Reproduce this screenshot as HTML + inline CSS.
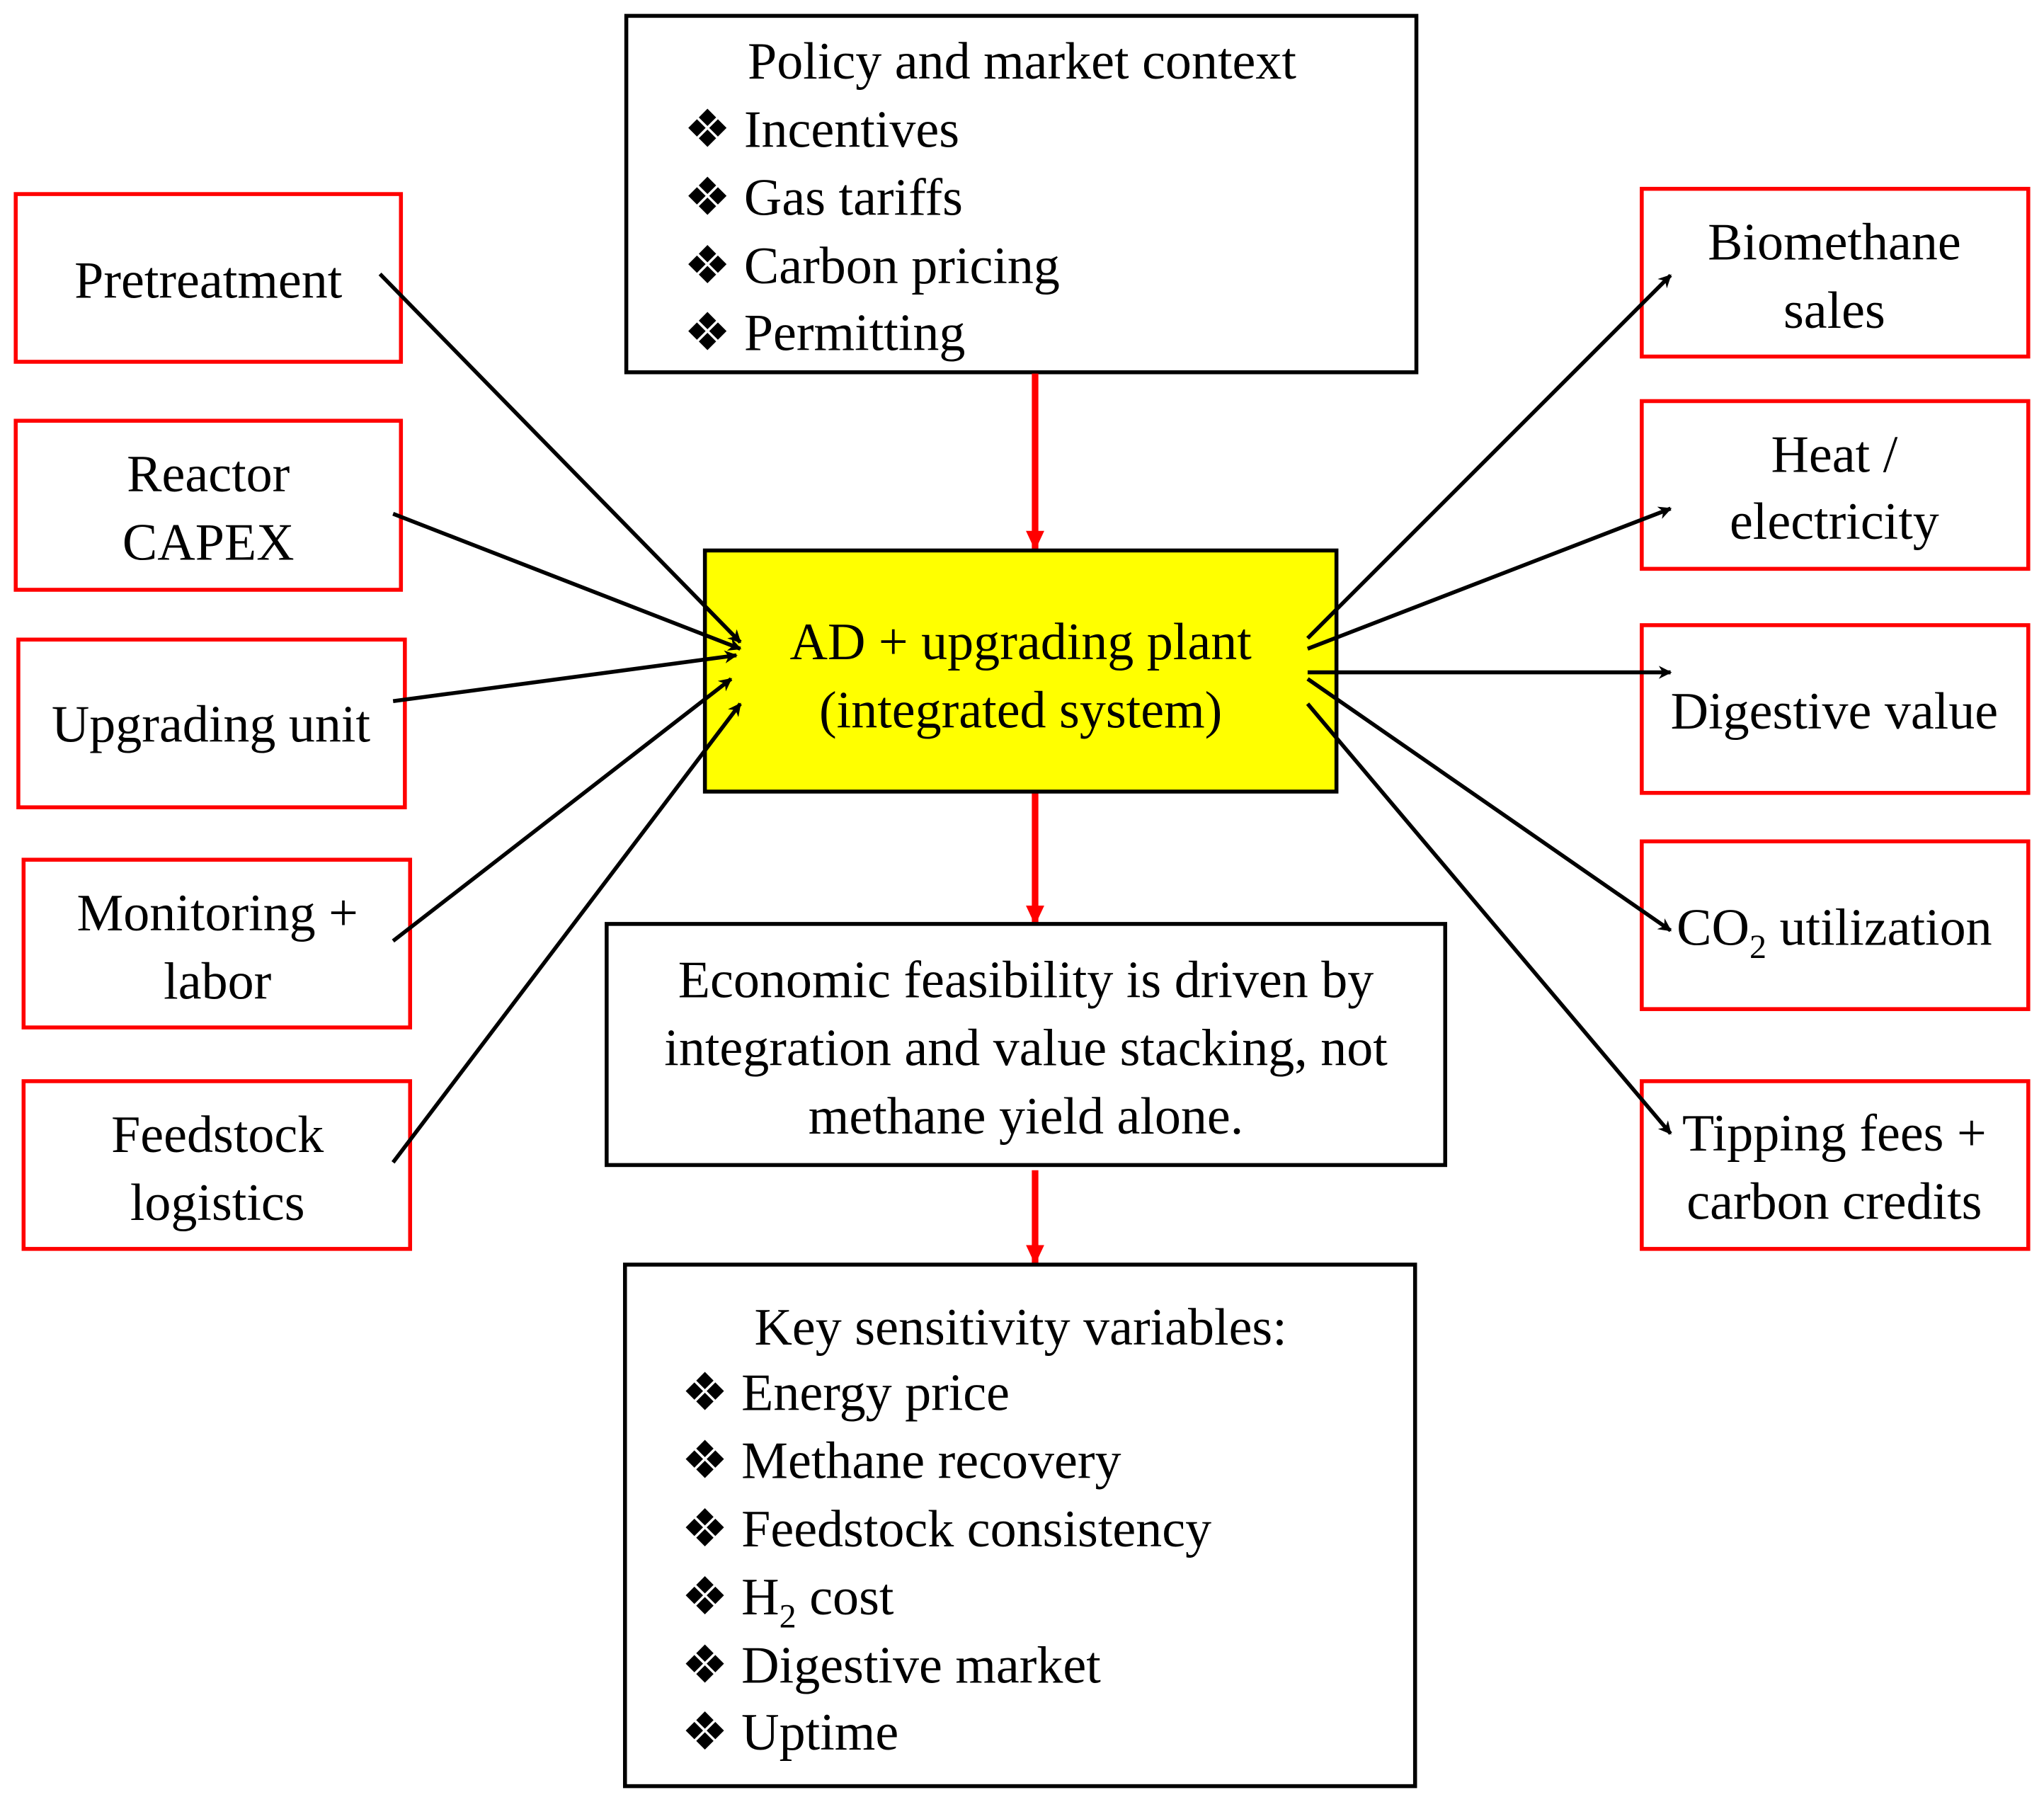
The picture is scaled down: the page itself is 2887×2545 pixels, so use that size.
<!DOCTYPE html>
<html><head><meta charset="utf-8"><style>
html,body{margin:0;padding:0;background:#fff;}
svg{display:block;}
text{font-family:"Liberation Serif",serif;font-size:40px;fill:#000;}
</style></head><body>
<svg width="2887" height="2545" viewBox="0 0 1560 1375" xmlns="http://www.w3.org/2000/svg">
<defs>
<marker id="ab" markerWidth="10" markerHeight="10" refX="9" refY="5" orient="auto" markerUnits="userSpaceOnUse"><path d="M0,0 L10,5 L0,10 L3,5 z" fill="#000"/></marker>
<marker id="ar" markerWidth="16" markerHeight="16" refX="14" refY="8" orient="auto" markerUnits="userSpaceOnUse"><path d="M0,1 L15,8 L0,15 z" fill="#f00"/></marker>
</defs>
<rect width="1560" height="1375" fill="#fff"/>
<!-- Policy -->
<rect x="478" y="12" width="603" height="272" fill="#fff" stroke="#000" stroke-width="3"/>
<text x="780" y="60" text-anchor="middle">Policy and market context</text>
<text x="522" y="112">❖ Incentives</text>
<text x="522" y="164">❖ Gas tariffs</text>
<text x="522" y="216">❖ Carbon pricing</text>
<text x="522" y="267">❖ Permitting</text>
<!-- red arrows -->
<line x1="790" y1="285" x2="790" y2="419" stroke="#f00" stroke-width="5" marker-end="url(#ar)"/>
<line x1="790" y1="605" x2="790" y2="705" stroke="#f00" stroke-width="5" marker-end="url(#ar)"/>
<line x1="790" y1="893" x2="790" y2="964" stroke="#f00" stroke-width="5" marker-end="url(#ar)"/>
<!-- Yellow -->
<rect x="538" y="420" width="482" height="184" fill="#ffff00" stroke="#000" stroke-width="3"/>
<text x="779" y="503" text-anchor="middle">AD + upgrading plant</text>
<text x="779" y="555" text-anchor="middle">(integrated system)</text>
<!-- Econ -->
<rect x="463" y="705" width="640" height="184" fill="#fff" stroke="#000" stroke-width="3"/>
<text x="783" y="761" text-anchor="middle">Economic feasibility is driven by</text>
<text x="783" y="813" text-anchor="middle">integration and value stacking, not</text>
<text x="783" y="865" text-anchor="middle">methane yield alone.</text>
<!-- Key -->
<rect x="477" y="965" width="603" height="398" fill="#fff" stroke="#000" stroke-width="3"/>
<text x="779" y="1026" text-anchor="middle">Key sensitivity variables:</text>
<text x="520" y="1076">❖ Energy price</text>
<text x="520" y="1128">❖ Methane recovery</text>
<text x="520" y="1180">❖ Feedstock consistency</text>
<text x="520" y="1232">❖ H<tspan font-size="26" dy="10">2</tspan><tspan dy="-10"> cost</tspan></text>
<text x="520" y="1284">❖ Digestive market</text>
<text x="520" y="1335">❖ Uptime</text>
<!-- Left boxes -->
<g fill="#fff" stroke="#f00" stroke-width="3">
<rect x="12" y="148" width="294" height="128"/>
<rect x="12" y="321" width="294" height="129"/>
<rect x="14" y="488" width="295" height="128"/>
<rect x="18" y="656" width="295" height="128"/>
<rect x="18" y="825" width="295" height="128"/>
<rect x="1253" y="144" width="295" height="128"/>
<rect x="1253" y="306" width="295" height="128"/>
<rect x="1253" y="477" width="295" height="128"/>
<rect x="1253" y="642" width="295" height="128"/>
<rect x="1253" y="825" width="295" height="128"/>
</g>
<text x="159" y="227" text-anchor="middle">Pretreatment</text>
<text x="159" y="375" text-anchor="middle">Reactor</text>
<text x="159" y="427" text-anchor="middle">CAPEX</text>
<text x="161" y="566" text-anchor="middle">Upgrading unit</text>
<text x="166" y="710" text-anchor="middle">Monitoring +</text>
<text x="166" y="762" text-anchor="middle">labor</text>
<text x="166" y="879" text-anchor="middle">Feedstock</text>
<text x="166" y="931" text-anchor="middle">logistics</text>
<text x="1400" y="198" text-anchor="middle">Biomethane</text>
<text x="1400" y="250" text-anchor="middle">sales</text>
<text x="1400" y="360" text-anchor="middle">Heat /</text>
<text x="1400" y="411" text-anchor="middle">electricity</text>
<text x="1400" y="556" text-anchor="middle">Digestive value</text>
<text x="1400" y="721" text-anchor="middle">CO<tspan font-size="26" dy="10">2</tspan><tspan dy="-10"> utilization</tspan></text>
<text x="1400" y="878" text-anchor="middle">Tipping fees +</text>
<text x="1400" y="930" text-anchor="middle">carbon credits</text>
<!-- black arrows -->
<g stroke="#000" stroke-width="3" marker-end="url(#ab)">
<line x1="290" y1="209" x2="565" y2="490"/>
<line x1="300" y1="392" x2="565" y2="495"/>
<line x1="300" y1="535" x2="562" y2="500"/>
<line x1="300" y1="718" x2="558" y2="518"/>
<line x1="300" y1="887" x2="565" y2="537"/>
<line x1="998" y1="487" x2="1275" y2="210"/>
<line x1="998" y1="495" x2="1275" y2="388"/>
<line x1="998" y1="513" x2="1275" y2="513"/>
<line x1="998" y1="518" x2="1275" y2="710"/>
<line x1="998" y1="537" x2="1275" y2="865"/>
</g>
</svg>
</body></html>
